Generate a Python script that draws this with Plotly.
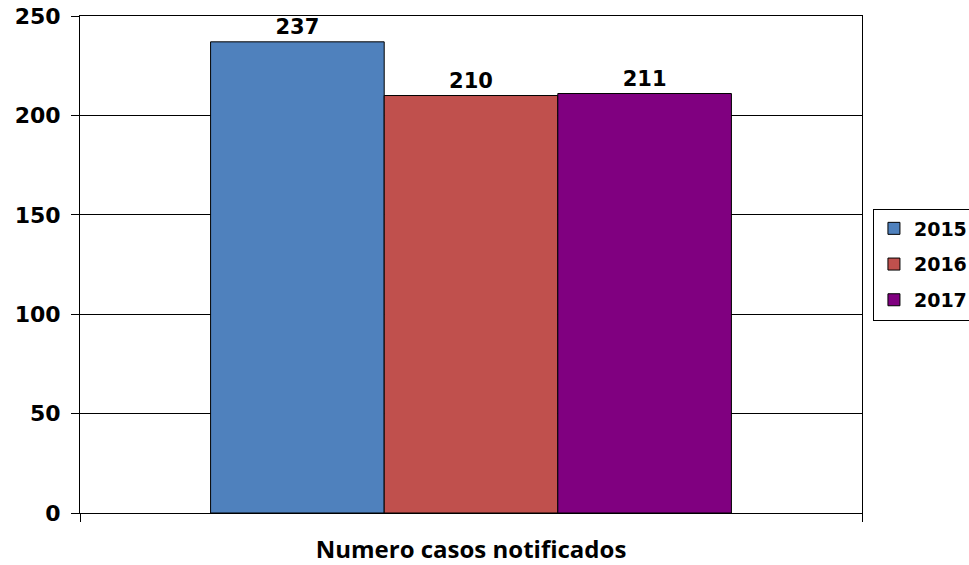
import plotly.graph_objects as go

categories = ["Numero casos notificados"]
years = ["2015", "2016", "2017"]
values_2015 = [237]
values_2016 = [210]
values_2017 = [211]
colors = ["#4F81BD", "#C0504D", "#800080"]
y_ticks = [0, 50, 100, 150, 200, 250]

FONT = "DejaVu Sans"
TITLE_FONT = "Open Sans"
series = [values_2015, values_2016, values_2017]

fig = go.Figure()
for name, vals, col in zip(years, series, colors):
    fig.add_trace(go.Bar(
        x=categories, y=vals, name=name, legendgroup=name,
        marker=dict(color=col, line=dict(color="#000000", width=1)),
        text=[str(v) for v in vals], textposition="outside",
        textfont=dict(family=FONT, size=21, color="#000000", weight="bold"),
        cliponaxis=False,
    ))

fig.update_layout(
    width=969, height=565,
    margin=dict(l=80, r=107, t=16, b=52, autoexpand=False),
    paper_bgcolor="white", plot_bgcolor="white",
    barmode="group", bargap=0.334, bargroupgap=0,
    font=dict(family=FONT, size=21, color="#000000", weight="bold"),
    showlegend=True,
    legend=dict(x=1.014, xanchor="left", y=0.5, yanchor="middle",
                bordercolor="#000000", borderwidth=1, bgcolor="white",
                font=dict(family=FONT, size=19, color="#000000", weight="bold"),
                tracegroupgap=8, itemclick=False, itemwidth=30),
)
fig.update_xaxes(
    type="category", showline=True, linecolor="#000000", linewidth=1, mirror=True,
    ticks="outside", tickson="boundaries", ticklen=8, tickcolor="#000000",
    showgrid=False, ticklabelstandoff=15, automargin=False,
    ticklabeloverflow="allow",
    tickfont=dict(family=TITLE_FONT, size=24, color="#000000", weight="bold"),
)
fig.update_yaxes(
    range=[0, 250], tickvals=y_ticks, showline=True, linecolor="#000000", linewidth=1,
    mirror=True, ticks="outside", ticklen=8, tickcolor="#000000", automargin=False,
    showgrid=True, gridcolor="#000000", gridwidth=1, zeroline=False,
    ticklabelstandoff=6, ticklabeloverflow="allow",
    tickfont=dict(family=FONT, size=22, color="#000000", weight="bold"),
)

fig.write_html(
    "out.html",
    config={"displayModeBar": False},
    post_script="document.body.style.margin='0';document.body.style.overflow='hidden';",
)
